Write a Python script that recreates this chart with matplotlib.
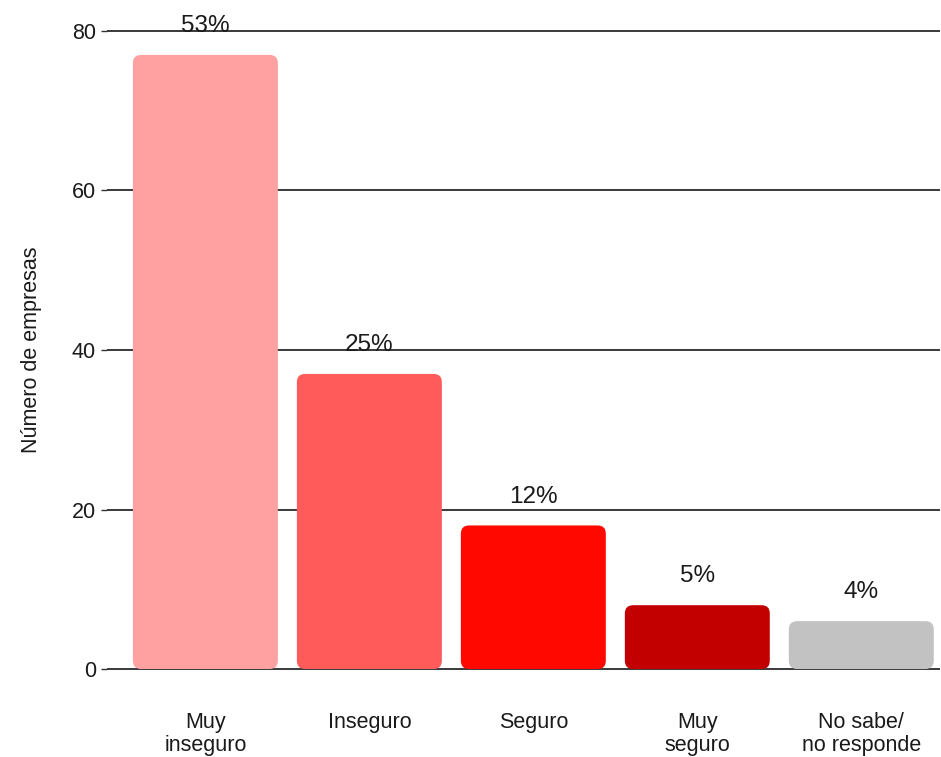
import matplotlib
matplotlib.use("Agg")
import matplotlib.pyplot as plt
from matplotlib.patches import FancyBboxPatch

plt.rcParams["font.family"] = ["Liberation Sans", "DejaVu Sans"]

categories = ["Muy\ninseguro", "Inseguro", "Seguro", "Muy\nseguro", "No sabe/\nno responde"]
counts = [77, 37, 18, 8, 6]
percent_labels = ["53%", "25%", "12%", "5%", "4%"]
bar_colors = ["#FFA1A1", "#FF5B5B", "#FF0800", "#C20000", "#C2C2C2"]
y_ticks = [0, 20, 40, 60, 80]

W, H = 941, 757
fig = plt.figure(figsize=(W / 100, H / 100), dpi=100)

# axes placed in pixel terms so the gridlines/bars line up with the reference
left, right, top, bottom = 107, 940, 28.6, 671.4
ax = fig.add_axes([left / W, (H - bottom) / H, (right - left) / W, (bottom - top) / H])

x = list(range(len(categories)))
bars = ax.bar(x, counts, width=0.884, color=bar_colors, zorder=2)

# swap square bars for rounded ones, correcting for unequal x/y scales
x_px = (right - left) / (4.48 + 0.6)
y_px = (bottom - top) / 80.6
aspect = x_px / y_px
for b in bars:
    rounded = FancyBboxPatch(
        (b.get_x(), b.get_y()), b.get_width(), b.get_height(),
        boxstyle="round,pad=0,rounding_size=0.05",
        mutation_aspect=aspect,
        facecolor=b.get_facecolor(), edgecolor="none", zorder=2,
    )
    b.set_visible(False)
    ax.add_patch(rounded)

for xi, v, lab in zip(x, counts, percent_labels):
    ax.text(xi, v + 3.6, lab, ha="center", va="center", fontsize=17.5,
            color="#1a1a1a", zorder=3, clip_on=False)

ax.set_xlim(-0.6, 4.48)
ax.set_ylim(-0.3, 80.3)
ax.set_yticks(y_ticks)
ax.set_xticks(x)
ax.set_xticklabels(categories, fontsize=15.5, color="#1a1a1a", linespacing=1.15)
ax.tick_params(axis="x", length=0, pad=29)
ax.tick_params(axis="y", length=4, width=1, color="#333333", labelsize=15.5,
               labelcolor="#1a1a1a", pad=4)

for t in y_ticks:
    ax.axhline(t, color="#2a2a2a", linewidth=1.3, zorder=1)

for s in ax.spines.values():
    s.set_visible(False)

ax.set_ylabel("Número de empresas", fontsize=15.5, color="#1a1a1a")
ax.yaxis.set_label_coords(-0.078, 0.5)

fig.savefig("out.png", dpi=100)
